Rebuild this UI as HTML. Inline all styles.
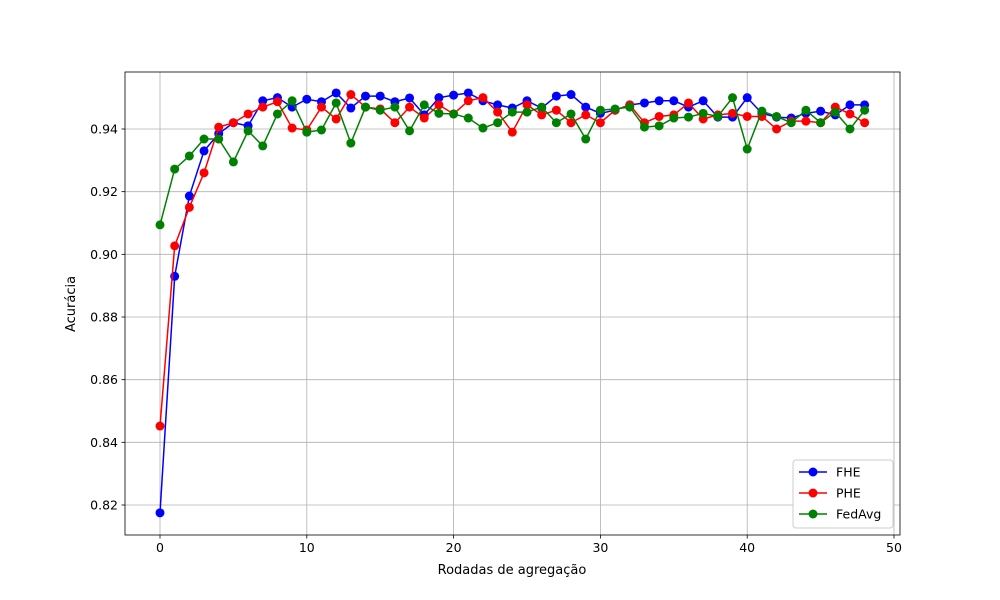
<!DOCTYPE html>
<html><head><meta charset="utf-8"><style>
body{margin:0;background:#fff;}
svg{display:block;font-family:"DejaVu Sans","Liberation Sans",sans-serif;}
</style></head><body>
<svg id="chart" width="1000" height="600" viewBox="0 0 1000 600"></svg>
<script>
const rounds = Array.from({length:49},(_, i)=>i);
const fhe = [0.8175,0.893,0.9186,0.933,0.9385,0.942,0.941,0.949,0.950,0.947,0.9495,0.9487,0.9515,0.9467,0.9505,0.9505,0.9487,0.9499,0.9445,0.950,0.9508,0.9515,0.949,0.9477,0.9467,0.949,0.9467,0.9505,0.951,0.947,0.945,0.946,0.9477,0.9483,0.949,0.949,0.947,0.949,0.9438,0.9438,0.950,0.945,0.9438,0.9435,0.945,0.9457,0.9445,0.9477,0.9477];
const phe = [0.8452,0.9027,0.915,0.926,0.9406,0.942,0.9448,0.947,0.9487,0.9403,0.9397,0.947,0.9432,0.951,0.947,0.9464,0.942,0.947,0.9435,0.9477,0.9448,0.949,0.950,0.9454,0.939,0.9477,0.9445,0.946,0.942,0.9445,0.942,0.946,0.9477,0.942,0.944,0.9445,0.9483,0.9432,0.9445,0.945,0.944,0.944,0.940,0.9425,0.9425,0.942,0.947,0.9448,0.942];
const fedavg = [0.9094,0.9272,0.9314,0.9368,0.9368,0.9295,0.9394,0.9346,0.9448,0.949,0.939,0.9397,0.9483,0.9355,0.947,0.946,0.947,0.9394,0.9477,0.945,0.9448,0.9435,0.9403,0.942,0.9454,0.9454,0.947,0.942,0.9448,0.9368,0.946,0.9464,0.947,0.9406,0.941,0.9435,0.9438,0.945,0.944,0.950,0.9336,0.9457,0.944,0.942,0.946,0.942,0.9454,0.940,0.946];
const xTicks = [0,10,20,30,40,50];
const yTicks = [0.82,0.84,0.86,0.88,0.90,0.92,0.94];
const seriesNames = ["FHE","PHE","FedAvg"];
const seriesColors = ["#0000ff","#ff0000","#008000"];

const L=125,R=900,T=72,B=535;
const xs = v => 160 + (v-0)*(894-160)/50;
const ys = v => 505 + (v-0.82)*(129-505)/0.12;
const NS="http://www.w3.org/2000/svg";
const svg=document.getElementById('chart');
function mk(tag, attrs, parent){const e=document.createElementNS(NS,tag);for(const k in attrs)e.setAttribute(k,attrs[k]);(parent||svg).appendChild(e);return e;}

const grid=mk('g',{});


xTicks.forEach(t=>{const x=xs(t);
  if(x>=L&&x<=R) mk('line',{x1:x,x2:x,y1:T,y2:B,stroke:'#b0b0b0','stroke-width':0.8},grid);
  mk('line',{x1:x,x2:x,y1:B,y2:B+3.5,stroke:'#000','stroke-width':0.8});
  const tx=mk('text',{x:x,y:B+17,'font-size':12.5,'text-anchor':'middle'});tx.textContent=t;
  
  
});
yTicks.forEach(t=>{const y=ys(t);
  mk('line',{x1:L,x2:R,y1:y,y2:y,stroke:'#b0b0b0','stroke-width':0.8},grid);
  mk('line',{x1:L-3.5,x2:L,y1:y,y2:y,stroke:'#000','stroke-width':0.8});
  const tx=mk('text',{x:L-7,y:y+4.5,'font-size':12.5,'text-anchor':'end'});tx.textContent=t.toFixed(2);
  
  
});
[fhe,phe,fedavg].forEach((data,si)=>{
  const g=mk('g',{});
  
  
  mk('polyline',{points:data.map((v,i)=>xs(rounds[i])+','+ys(v)).join(' '),fill:'none',stroke:seriesColors[si],'stroke-width':1.5},g);
  data.forEach((v,i)=>{const c=mk('circle',{cx:xs(rounds[i]),cy:ys(v),r:4.5,fill:seriesColors[si]},g);
    
    
  });
});
mk('rect',{x:L,y:T,width:R-L,height:B-T,fill:'none',stroke:'#000','stroke-width':0.8});
const xl=mk('text',{x:512,y:574,'font-size':13,'text-anchor':'middle'});xl.textContent='Rodadas de agregação';


const yl=mk('text',{x:75,y:304,'font-size':13,'text-anchor':'middle',transform:'rotate(-90 75 304)'});yl.textContent='Acurácia';


const lg=mk('g',{});


mk('rect',{x:793,y:460,width:100,height:68,rx:3,fill:'#fff',stroke:'#cccccc','stroke-width':1},lg);
seriesNames.forEach((n,i)=>{const y=472+i*21;
  const e=mk('g',{},lg);
  
  
  mk('line',{x1:799,x2:827,y1:y,y2:y,stroke:seriesColors[i],'stroke-width':1.5},e);
  mk('circle',{cx:813,cy:y,r:4.5,fill:seriesColors[i]},e);
  const t=mk('text',{x:836,y:y+4.5,'font-size':12.5},e);t.textContent=n;
});
</script>
</body></html>
